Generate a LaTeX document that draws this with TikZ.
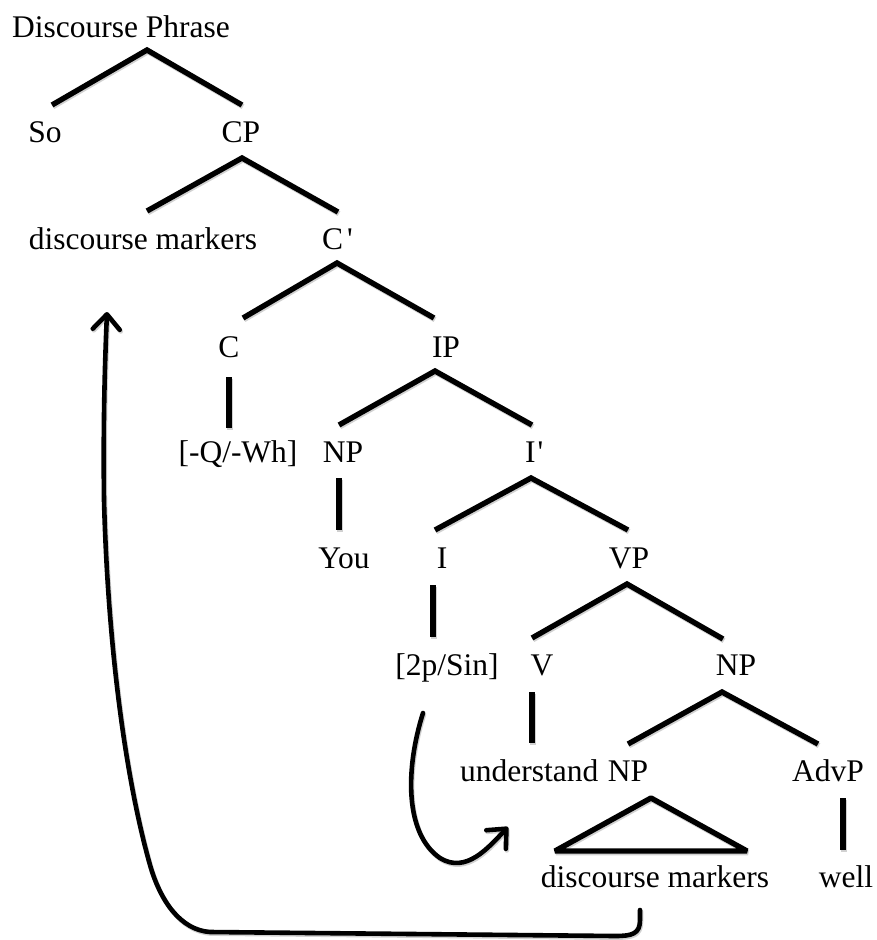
\documentclass[tikz,border=0pt]{standalone}
\usepackage{fontspec}
\setmainfont{Liberation Serif}
\usetikzlibrary{arrows.meta}

\tikzset{
  lbl/.style={anchor=base, inner sep=0pt, font=\fontsize{31.5}{36}\selectfont},
  lblw/.style={lbl, anchor=base west},
  branch/.style={line width=5.4pt, line cap=butt, line join=miter},
  movearrow/.style={line width=4.6pt, line cap=round,
    -{Straight Barb[length=15pt,width=27pt,round]}},
}

% all tree branches and movement arrows (drawn once as a soft shadow, once in black)
\newcommand\TreeBranches{%
  \draw[branch] ([shift={(7,-37)}]So.base) -- ([shift={(26,13)}]DP.base) -- ([shift={(1,-37)}]CP.base);
  \draw[branch] ([shift={(4,-38)}]dmA.base) -- ([shift={(1,16)}]CP.base) -- ([shift={(16,-37)}]Cbar.base west);
  \draw[branch] ([shift={(14,-39)}]C.base) -- ([shift={(15,14)}]Cbar.base west) -- ([shift={(-12,-39)}]IP.base);
  \draw[branch] ([shift={(0,20)}]C.base) -- ([shift={(-9,-34)}]feat.base);
  \draw[branch] ([shift={(-4,-37)}]NPa.base) -- ([shift={(-11,14)}]IP.base) -- ([shift={(7,-37)}]Ibar.base west);
  \draw[branch] ([shift={(-4,16)}]NPa.base) -- ([shift={(-5,-38)}]You.base);
  \draw[branch] ([shift={(-7,-38)}]I.base) -- ([shift={(6,16)}]Ibar.base west) -- ([shift={(-1,-38)}]VP.base);
  \draw[branch] ([shift={(-9,17)}]I.base) -- ([shift={(-14,-38)}]agr.base);
  \draw[branch] ([shift={(-10,-37)}]V.base) -- ([shift={(-2,16)}]VP.base) -- ([shift={(-13,-36)}]NPb.base);
  \draw[branch] ([shift={(-10,17)}]V.base) -- ([shift={(72,-38)}]und.base west);
  \draw[branch] ([shift={(0,-37)}]NPc.base) -- ([shift={(-14,17)}]NPb.base) -- ([shift={(-10,-37)}]AdvP.base);
  \draw[branch, line join=bevel] ([shift={(-100,-36)}]dmB.base) -- ([shift={(23,17)}]NPc.base)
        -- ([shift={(92,-36)}]dmB.base) -- cycle;
  \draw[branch] ([shift={(15,17)}]AdvP.base) -- ([shift={(-3,-37)}]well.base);
  % agreement features lowered onto the verb
  \draw[movearrow] ([shift={(-24,38)}]agr.base)
        .. controls (405,770) and (405,834) .. (440,858)
        .. controls (466,874) and (488,848) .. ([shift={(48,46)}]und.base west);
  % discourse markers raised to the left periphery
  \draw[movearrow] ([shift={(-15,23)}]dmB.base) -- ++(0,10)
        .. controls +(0,14) and (632,936) .. (615,936) -- (210,932)
        .. controls (180,930) and (160,900) .. (150,865)
        .. controls (126,780) and (108,650) .. (104,500)
        .. controls (103,420) and (105,360) .. ([shift={(-36,63)}]dmA.base);
}

\begin{document}
\begin{tikzpicture}[x=1pt,y=-1pt]
  \useasboundingbox (0,0) rectangle (877,940);

  \node[lbl]  (DP)   at (121,37)  {Discourse Phrase};
  \node[lbl]  (So)   at (45,142)  {So};
  \node[lbl]  (CP)   at (241,142) {CP};
  \node[lbl]  (dmA)  at (143,249) {discourse markers};
  \node[lblw] (Cbar) at (322,249) {C\kern4pt\textquotesingle};
  \node[lbl]  (C)    at (229,357) {C};
  \node[lbl]  (IP)   at (446,357) {IP};
  \node[lbl]  (feat) at (238,462) {[-Q/-Wh]};
  \node[lbl]  (NPa)  at (343,462) {NP};
  \node[lblw] (Ibar) at (525,462) {I\kern2pt\textquotesingle};
  \node[lbl]  (You)  at (344,568) {You};
  \node[lbl]  (I)    at (442,568) {I};
  \node[lbl]  (VP)   at (629,568) {VP};
  \node[lbl]  (agr)  at (447,675) {[2p/Sin]};
  \node[lbl]  (V)    at (542,675) {V};
  \node[lbl]  (NPb)  at (736,675) {NP};
  \node[lblw] (und)  at (460,781) {understand};
  \node[lbl]  (NPc)  at (628,781) {NP};
  \node[lbl]  (AdvP) at (828,781) {AdvP};
  \node[lbl]  (dmB)  at (655,887) {discourse markers};
  \node[lbl]  (well) at (846,887) {well};

  \begin{scope}[transform canvas={xshift=1pt,yshift=-1.6pt},
                branch/.append style={draw=black!18},
                movearrow/.append style={draw=black!18}]
    \TreeBranches
  \end{scope}
  \TreeBranches
\end{tikzpicture}
\end{document}
